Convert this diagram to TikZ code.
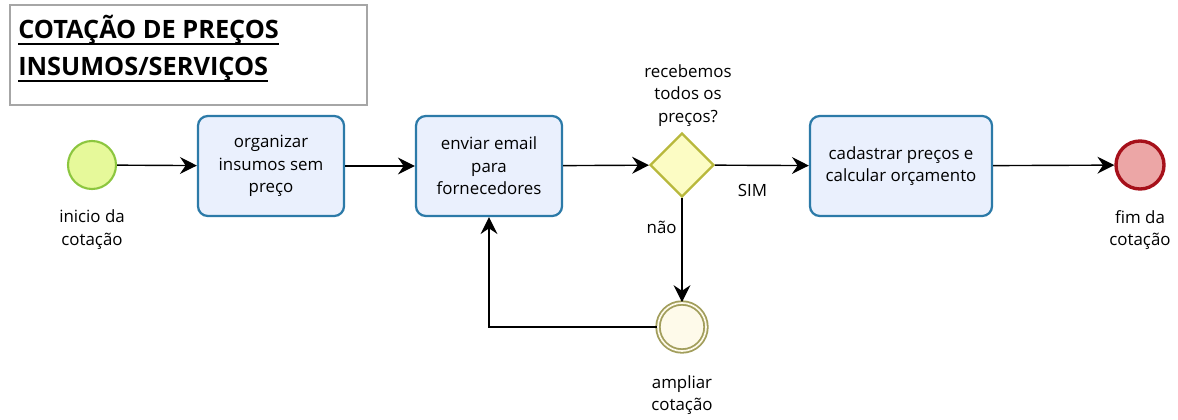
\documentclass[tikz,border=0pt]{standalone}
\usepackage{fontspec}
\setmainfont{Open Sans}
\usetikzlibrary{arrows.meta,shapes.geometric,positioning}

\definecolor{taskline}{RGB}{44,122,168}
\definecolor{taskfill}{RGB}{234,240,253}
\definecolor{startline}{RGB}{140,198,63}
\definecolor{startfill}{RGB}{230,249,154}
\definecolor{endline}{RGB}{166,16,26}
\definecolor{endfill}{RGB}{236,166,166}
\definecolor{gwline}{RGB}{184,184,60}
\definecolor{gwfill}{RGB}{252,252,196}
\definecolor{midline}{RGB}{162,158,92}
\definecolor{midfill}{RGB}{254,250,234}

\begin{document}
\begin{tikzpicture}[
        x = 0.025cm, y = -0.025cm,
        every node/.style = {font = \fontsize{12}{16}\selectfont},
        task/.style = {draw = taskline, fill = taskfill, line width = 1.6pt, rounded corners = 7pt, minimum width = 3.65cm, minimum height = 2.5cm, align = center},
        startev/.style = {circle, draw = startline, fill = startfill, line width = 1.5pt, minimum size = 1.2cm, inner sep = 0pt},
        endev/.style = {circle, draw = endline, fill = endfill, line width = 2.4pt, minimum size = 1.2cm, inner sep = 0pt},
        midev/.style = {circle, draw = midline, fill = midfill, double = midfill, double distance = 1.2pt, line width = 1.3pt, minimum size = 1.2cm, inner sep = 0pt},
        gateway/.style = {diamond, draw = gwline, fill = gwfill, line width = 1.6pt, minimum width = 1.6cm, minimum height = 1.6cm, inner sep = 0pt},
        evlabel/.style = {align = center, inner sep = 1pt},
        titletext/.style = {anchor = base west, inner sep = 0pt, font = \fontsize{18}{27}\selectfont\bfseries},
        flow/.style = {-{Stealth[length = 12pt, width = 12pt, inset = 4pt]}, line width = 1pt}
    ]
        \useasboundingbox (0,0) rectangle (1178,420);

        % title
        \draw[gray!70, line width = 0.8pt] (10,5) rectangle (367,105);
        \node[titletext] (title1) at (18,39) {COTAÇÃO DE PREÇOS};
        \node[titletext] (title2) at (18,76) {INSUMOS/SERVIÇOS};
        \draw[line width = 1pt] ([yshift = -3.5pt]title1.base west) -- ([yshift = -3.5pt]title1.base east);
        \draw[line width = 1pt] ([yshift = -3.5pt]title2.base west) -- ([yshift = -3.5pt]title2.base east);

        % events and tasks
        \node[startev] (inicio) at (92,165) {};
        \node[task] (organizar) at (271,166) {organizar\\insumos sem\\preço};
        \node[task] (enviar) at (489,166) {enviar email\\para\\fornecedores};
        \node[gateway] (recebemos) at (682,165) {};
        \node[task, minimum width = 4.55cm] (cadastrar) at (901,166) {cadastrar preços e\\calcular orçamento};
        \node[endev] (fim) at (1140,165) {};
        \node[midev] (ampliar) at (682,327) {};

        % labels
        \node[evlabel, below = 0.45cm of inicio] (inicioLbl) {inicio da\\cotação};
        \node[evlabel, below = 0.45cm of fim] (fimLbl) {fim da\\cotação};
        \node[evlabel, below = 0.55cm of ampliar] (ampliarLbl) {ampliar\\cotação};
        \node[evlabel, above = 0.1cm of recebemos, xshift = 0.15cm] (recebemosLbl) {recebemos\\todos os\\preços?};

        % flows
        \draw[flow] (inicio) -- (organizar);
        \draw[flow] (organizar) -- (enviar);
        \draw[flow] (enviar) -- (recebemos);
        \draw[flow] (recebemos) -- node[pos = 0.4, below = 0.35cm] {SIM} (cadastrar);
        \draw[flow] (cadastrar) -- (fim);
        \draw[flow] (recebemos) -- node[pos = 0.28, left = 0pt] {não} (ampliar);
        \draw[flow] (ampliar.west) -| (enviar.south);
    \end{tikzpicture}
\end{document}
